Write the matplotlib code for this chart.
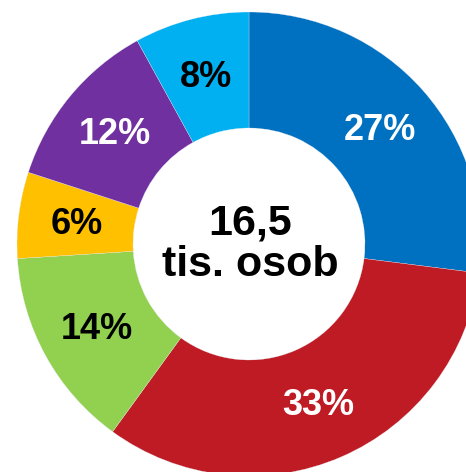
import numpy as np
import matplotlib.pyplot as plt

plt.rcParams['font.family'] = ['Liberation Sans', 'DejaVu Sans']

shares = [27, 33, 14, 6, 12, 8]
labels = ['27%', '33%', '14%', '6%', '12%', '8%']
colors = ['#0070C0', '#BE1B24', '#92D050', '#FFC000', '#7030A0', '#00B0F0']
label_colors = ['white', 'white', 'black', 'black', 'white', 'black']
center_text = '16,5\ntis. osob'

fig = plt.figure(figsize=(4.66, 4.72), dpi=100)
ax = fig.add_axes([0, 0, 1, 1])

wedges, _ = ax.pie(shares, colors=colors, startangle=90, counterclock=False,
                   radius=1.0, wedgeprops=dict(width=0.5, edgecolor='#e8eef5', linewidth=0.2))

# percentage labels at the middle of each ring segment
cum = np.cumsum([0] + shares[:-1])
for start, val, lab, col in zip(cum, shares, labels, label_colors):
    ang = np.deg2rad(90 - (start + val / 2) * 3.6)
    ax.text(0.75 * np.cos(ang), 0.75 * np.sin(ang) - 0.008, lab, ha='center', va='center',
            fontsize=26, fontweight='bold', color=col)

ax.text(0.005, 0.0, center_text, ha='center', va='center', fontsize=31,
        fontweight='bold', color='black', linespacing=1.05)

# the ring is clipped on the right and bottom by the canvas
ax.set_xlim(-249 / 232, 217 / 232)
ax.set_ylim(-228 / 232, 244 / 232)
ax.set_aspect('auto')
ax.axis('off')

fig.savefig('out.png', dpi=100)
